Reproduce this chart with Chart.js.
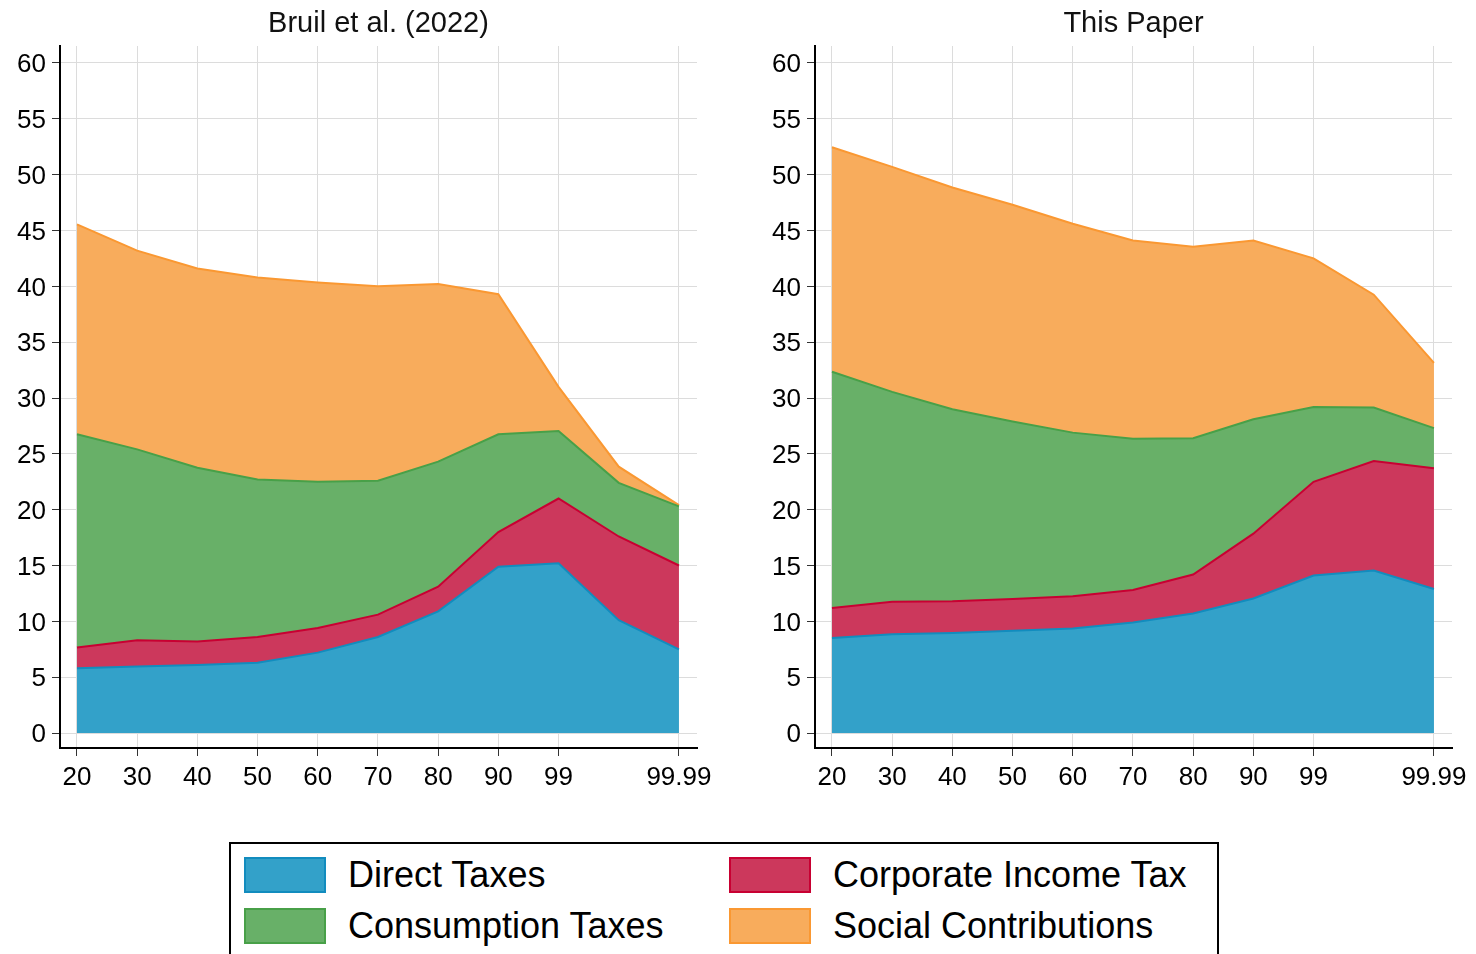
<!DOCTYPE html>
<html>
<head>
<meta charset="utf-8">
<script src="https://cdn.jsdelivr.net/npm/chart.js@4.4.1/dist/chart.umd.min.js"></script>
<style>
  html, body { margin: 0; padding: 0; background: #fff; overflow: hidden; width: 1476px; height: 954px; }
  body { position: relative; font-family: 'Liberation Sans', Arial, sans-serif; }
  canvas { position: absolute; top: 0; }
  .title { position: absolute; top: 4px; width: 600px; text-align: center; font-size: 29px; line-height: 36px; color: #111; }
  #legend { position: absolute; left: 229px; top: 842px; width: 986px; height: 130px; border: 2px solid #000; }
  .item { position: absolute; height: 36px; line-height: 36px; font-size: 36px; color: #000; white-space: nowrap; }
  .sw { position: absolute; left: 0; top: 0; width: 78px; height: 32px; border: 2px solid; }
  .item span { position: absolute; left: 104px; top: 0; }
</style>
</head>
<body>
<canvas id="left" width="757" height="800" style="left:0"></canvas>
<canvas id="right" width="757" height="800" style="left:755px"></canvas>
<div class="title" style="left:78.5px">Bruil et al. (2022)</div>
<div class="title" style="left:833.5px">This Paper</div>
<div id="legend"></div>
<script>
// ---- data (percentile groups, % of income) ----
const percentiles = ['20', '30', '40', '50', '60', '70', '80', '90', '99', '99.9', '99.99'];
const shownTicks = [0, 1, 2, 3, 4, 5, 6, 7, 8, 10];   // 99.9 has no label in the original
const yTicks = [0, 5, 10, 15, 20, 25, 30, 35, 40, 45, 50, 55, 60];

// Bruil et al. (2022)
const bruilDirect      = [5.8, 5.95, 6.1, 6.3, 7.2, 8.6, 10.9, 14.9, 15.2, 10.1, 7.5];
const bruilCorporate   = [1.85, 2.35, 2.1, 2.3, 2.2, 2.0, 2.2, 3.1, 5.8, 7.5, 7.5];
const bruilConsumption = [19.1, 17.1, 15.55, 14.1, 13.1, 12.0, 11.2, 8.75, 6.05, 4.8, 5.3];
const bruilSocial      = [18.8, 17.8, 17.85, 18.1, 17.85, 17.4, 15.9, 12.55, 3.95, 1.45, 0.1];

// This paper
const paperDirect      = [8.5, 8.85, 8.95, 9.15, 9.35, 9.9, 10.7, 12.05, 14.1, 14.55, 12.9];
const paperCorporate   = [2.7, 2.9, 2.85, 2.85, 2.9, 2.9, 3.5, 5.8, 8.4, 9.8, 10.8];
const paperConsumption = [21.15, 18.8, 17.2, 15.9, 14.65, 13.55, 12.2, 10.25, 6.7, 4.8, 3.6];
const paperSocial      = [20.1, 20.15, 19.85, 19.4, 18.7, 17.75, 17.15, 16.0, 13.3, 10.1, 5.85];

const seriesNames = ['Direct Taxes', 'Corporate Income Tax', 'Consumption Taxes', 'Social Contributions'];
const fills   = ['rgb(51,161,201)', 'rgb(204,56,92)', 'rgb(104,176,104)', 'rgb(248,172,92)'];
const borders = ['rgb(18,140,190)', 'rgb(200,0,50)', 'rgb(72,160,72)', 'rgb(250,152,50)'];

Chart.defaults.font.family = "'Liberation Sans', Arial, sans-serif";
Chart.defaults.color = '#000';

function renderPanel(canvasId, series) {
  const ctx = document.getElementById(canvasId).getContext('2d');
  return new Chart(ctx, {
    type: 'line',
    data: {
      datasets: series.map((vals, k) => ({
        label: seriesNames[k],
        data: vals.map((v, i) => ({ x: i, y: v })),
        backgroundColor: fills[k],
        borderColor: borders[k],
        borderWidth: 2,
        pointRadius: 0,
        tension: 0,
        fill: k === 0 ? 'origin' : '-1',
      }))
    },
    options: {
      responsive: false,
      animation: false,
      layout: { padding: { left: 5, right: 60, top: 46, bottom: 0 } },
      plugins: {
        legend: { display: false },
        tooltip: { enabled: false }
      },
      scales: {
        x: {
          type: 'linear', min: -0.282, max: 10.3,
          afterBuildTicks: s => { s.ticks = shownTicks.map(v => ({ value: v })); },
          afterFit: s => { s.height = 52; },
          ticks: { callback: v => percentiles[v], autoSkip: false, maxRotation: 0, font: { size: 26 }, color: '#000', padding: 6 },
          grid: { color: '#dcdcdc', tickColor: '#333', tickLength: 8 },
          border: { color: '#000', width: 2 }
        },
        y: {
          stacked: true, min: -1.34, max: 61.52,
          afterBuildTicks: s => { s.ticks = yTicks.map(v => ({ value: v })); },
          afterFit: s => { s.width = 55; },
          ticks: { callback: v => v, font: { size: 26 }, color: '#000', padding: 6, labelOffset: 2 },
          grid: { color: '#dcdcdc', tickColor: '#333', tickLength: 8 },
          border: { color: '#000', width: 2 }
        }
      }
    }
  });
}

renderPanel('left', [bruilDirect, bruilCorporate, bruilConsumption, bruilSocial]);
renderPanel('right', [paperDirect, paperCorporate, paperConsumption, paperSocial]);

// legend: two columns, Direct/Consumption left, Corporate/Social right
const legendPos = [[13, 13], [498, 13], [13, 64], [498, 64]];
const legend = document.getElementById('legend');
seriesNames.forEach((name, k) => {
  const it = document.createElement('div');
  it.className = 'item';
  it.style.left = legendPos[k][0] + 'px';
  it.style.top = legendPos[k][1] + 'px';
  it.innerHTML = '<div class="sw" style="background:' + fills[k] + ';border-color:' + borders[k] + '"></div><span>' + name + '</span>';
  legend.appendChild(it);
});
</script>
</body>
</html>
